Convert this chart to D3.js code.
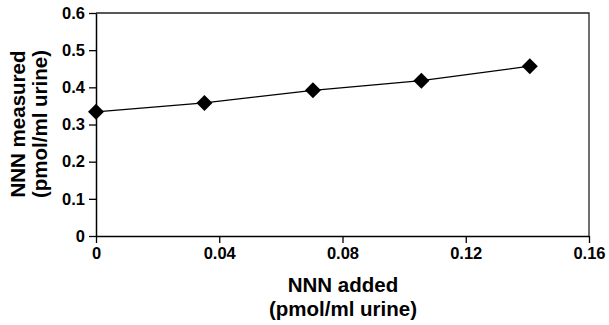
<!DOCTYPE html>
<html>
<head>
<meta charset="utf-8">
<script src="https://cdn.jsdelivr.net/npm/d3@7"></script>
<style>
  body { margin: 0; background: #fff; }
  text { font-family: "Liberation Sans", Arial, sans-serif; font-weight: bold; }
</style>
</head>
<body>
<div id="chart"></div>
<script>
// data
const nnnAdded = [0, 0.0352, 0.0704, 0.1056, 0.1408];
const nnnMeasured = [0.334, 0.358, 0.392, 0.418, 0.457];
const xTicks = [0, 0.04, 0.08, 0.12, 0.16];
const yTicks = [0, 0.1, 0.2, 0.3, 0.4, 0.5, 0.6];
const xTickLabels = ["0", "0.04", "0.08", "0.12", "0.16"];
const yTickLabels = ["0", "0.1", "0.2", "0.3", "0.4", "0.5", "0.6"];

let dimensions = {
  width: 609,
  height: 325,
  margins: { top: 13, bottom: 89, left: 96, right: 20 }
};
dimensions.containerWidth = dimensions.width - dimensions.margins.left - dimensions.margins.right;
dimensions.containerHeight = dimensions.height - dimensions.margins.top - dimensions.margins.bottom;

const svg = d3.select("#chart")
  .append("svg")
  .attr("width", dimensions.width)
  .attr("height", dimensions.height);

const container = svg.append("g")
  .attr("transform", `translate(${dimensions.margins.left}, ${dimensions.margins.top})`);

const x = d3.scaleLinear()
  .domain([0, 0.16])
  .range([0, 493]);

const y = d3.scaleLinear()
  .domain([0, 0.6])
  .range([dimensions.containerHeight, 0]);

// frame top / right (thin)
container.append("path")
  .attr("d", `M0,${y(0.6)}H${x(0.16)}V${y(0)}`)
  .attr("fill", "none")
  .attr("stroke", "#222")
  .attr("stroke-width", 1.3);

// x axis
const xAxis = container.append("g")
  .attr("transform", `translate(0, ${dimensions.containerHeight})`)
  .call(d3.axisBottom(x).tickValues(xTicks).tickFormat((d, i) => xTickLabels[i]).tickSize(7).tickSizeOuter(0));
xAxis.select(".domain").attr("stroke-width", 1.5);
xAxis.selectAll(".tick line").attr("stroke-width", 1.3);
xAxis.selectAll("text")
  .style("font-size", "16.5px")
  .attr("fill", "#000")
  .attr("y", 9)
  .attr("dy", "0.85em");

// y axis
const yAxis = container.append("g")
  .call(d3.axisLeft(y).tickValues(yTicks).tickFormat((d, i) => yTickLabels[i]).tickSize(7).tickSizeOuter(0));
yAxis.select(".domain").attr("stroke-width", 1.5);
yAxis.selectAll(".tick line").attr("stroke-width", 1.3);
yAxis.selectAll("text")
  .style("font-size", "16.5px")
  .attr("fill", "#000")
  .attr("x", -11);

// axis titles
const xTitle = svg.append("text")
  .attr("text-anchor", "middle")
  .style("font-size", "20.5px");
xTitle.append("tspan").attr("x", 343).attr("y", 292).text("NNN added");
xTitle.append("tspan").attr("x", 343).attr("y", 316).text("(pmol/ml urine)");

const yTitle = svg.append("text")
  .attr("text-anchor", "middle")
  .style("font-size", "20.5px")
  .attr("transform", "translate(0, 124) rotate(-90)");
yTitle.append("tspan").attr("x", 0).attr("y", 25).text("NNN measured");
yTitle.append("tspan").attr("x", 0).attr("y", 47).text("(pmol/ml urine)");

// line through points
const points = nnnAdded.map((d, i) => ({ added: d, measured: nnnMeasured[i] }));
container.append("path")
  .datum(points)
  .attr("fill", "none")
  .attr("stroke", "#000")
  .attr("stroke-width", 1.3)
  .attr("d", d3.line().x(d => x(d.added)).y(d => y(d.measured)));

// diamond markers
container.selectAll(".marker")
  .data(points)
  .join("path")
  .attr("class", "marker")
  .attr("d", d3.symbol().type(d3.symbolSquare).size(128))
  .attr("transform", d => `translate(${x(d.added)}, ${y(d.measured)}) rotate(45)`)
  .attr("fill", "#000");
</script>
</body>
</html>
